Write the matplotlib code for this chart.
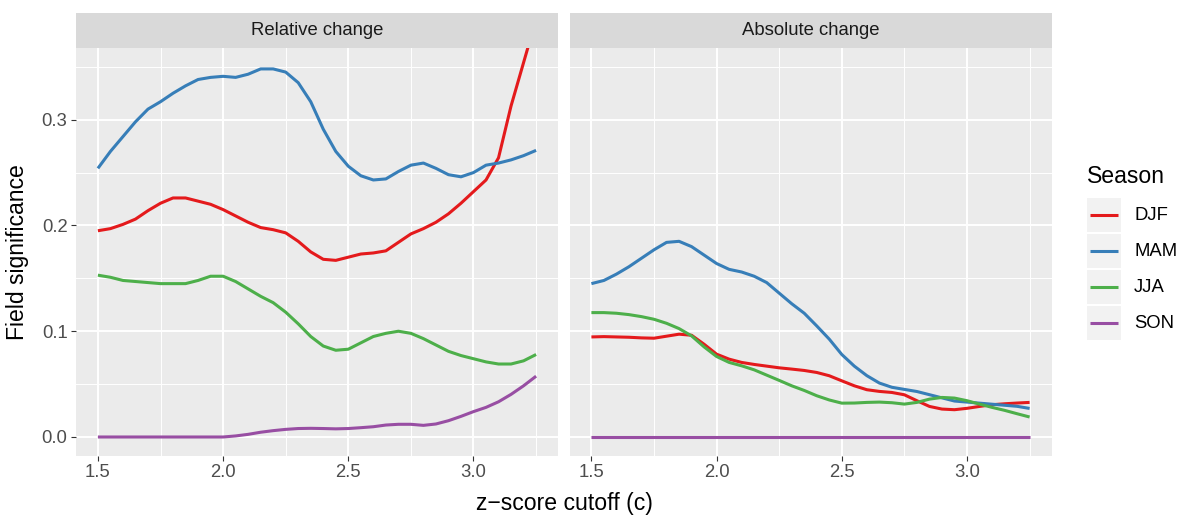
import matplotlib
matplotlib.use('Agg')
import matplotlib.pyplot as plt
from matplotlib.patches import Rectangle

plt.rcParams['font.family'] = ['Liberation Sans', 'DejaVu Sans']

# z-score cutoff (x axis)
z_cutoff = [1.50, 1.55, 1.60, 1.65, 1.70, 1.75, 1.80, 1.85, 1.90, 1.95,
            2.00, 2.05, 2.10, 2.15, 2.20, 2.25, 2.30, 2.35, 2.40, 2.45,
            2.50, 2.55, 2.60, 2.65, 2.70, 2.75, 2.80, 2.85, 2.90, 2.95,
            3.00, 3.05, 3.10, 3.15, 3.20, 3.25]

seasons = ['DJF', 'MAM', 'JJA', 'SON']
season_colors = ['#E41A1C', '#377EB8', '#4DAF4A', '#984EA3']
panel_titles = ['Relative change', 'Absolute change']

# Relative change
rel_djf = [0.195, 0.197, 0.201, 0.206, 0.214, 0.221, 0.226, 0.226, 0.223, 0.220,
           0.215, 0.209, 0.203, 0.198, 0.196, 0.193, 0.185, 0.175, 0.168, 0.167,
           0.170, 0.173, 0.174, 0.176, 0.184, 0.192, 0.197, 0.203, 0.211, 0.221,
           0.232, 0.243, 0.264, 0.313, 0.354, 0.395]
rel_mam = [0.254, 0.270, 0.284, 0.298, 0.310, 0.317, 0.325, 0.332, 0.338, 0.340,
           0.341, 0.340, 0.343, 0.348, 0.348, 0.345, 0.335, 0.317, 0.291, 0.270,
           0.256, 0.247, 0.243, 0.244, 0.251, 0.257, 0.259, 0.254, 0.248, 0.246,
           0.250, 0.257, 0.259, 0.262, 0.266, 0.271]
rel_jja = [0.153, 0.151, 0.148, 0.147, 0.146, 0.145, 0.145, 0.145, 0.148, 0.152,
           0.152, 0.147, 0.140, 0.133, 0.127, 0.118, 0.107, 0.095, 0.086, 0.082,
           0.083, 0.089, 0.095, 0.098, 0.100, 0.098, 0.093, 0.087, 0.081, 0.077,
           0.074, 0.071, 0.069, 0.069, 0.072, 0.078]
rel_son = [0.0, 0.0, 0.0, 0.0, 0.0, 0.0, 0.0, 0.0, 0.0, 0.0,
           0.0, 0.001, 0.0025, 0.0045, 0.006, 0.0072, 0.008, 0.0082, 0.008, 0.0077,
           0.008, 0.0088, 0.0097, 0.0113, 0.012, 0.012, 0.011, 0.0123, 0.0154, 0.0195,
           0.024, 0.028, 0.0333, 0.0403, 0.0484, 0.0575]

# Absolute change
abs_djf = [0.0946, 0.0949, 0.0946, 0.0943, 0.0937, 0.0934, 0.0953, 0.0972, 0.0962, 0.0877,
           0.0783, 0.0736, 0.0705, 0.0686, 0.0670, 0.0654, 0.0642, 0.0629, 0.0610, 0.0579,
           0.0531, 0.0484, 0.0447, 0.0431, 0.0421, 0.0399, 0.0343, 0.0289, 0.0264, 0.0258,
           0.0271, 0.0289, 0.0305, 0.0314, 0.0321, 0.0327]
abs_mam = [0.145, 0.148, 0.154, 0.161, 0.169, 0.177, 0.184, 0.185, 0.180, 0.172,
           0.164, 0.1585, 0.156, 0.152, 0.146, 0.136, 0.126, 0.117, 0.105, 0.0925,
           0.078, 0.067, 0.058, 0.051, 0.047, 0.045, 0.043, 0.040, 0.037, 0.034,
           0.033, 0.032, 0.031, 0.030, 0.029, 0.027]
abs_jja = [0.1176, 0.1176, 0.1170, 0.1157, 0.1138, 0.1113, 0.1075, 0.1025, 0.0956, 0.0852,
           0.0761, 0.0705, 0.0673, 0.0635, 0.0585, 0.0535, 0.0484, 0.0440, 0.0390, 0.0350,
           0.0320, 0.0321, 0.0327, 0.0330, 0.0324, 0.0311, 0.0327, 0.0358, 0.0374, 0.0368,
           0.0343, 0.0311, 0.0280, 0.0252, 0.0220, 0.0189]
abs_son = [0.0, 0.0, 0.0, 0.0, 0.0, 0.0, 0.0, 0.0, 0.0, 0.0,
           0.0, 0.0, 0.0, 0.0, 0.0, 0.0, 0.0, 0.0, 0.0, 0.0,
           0.0, 0.0, 0.0, 0.0, 0.0, 0.0, 0.0, 0.0, 0.0, 0.0,
           0.0, 0.0, 0.0, 0.0, 0.0, 0.0]

x_ticks = [1.5, 2.0, 2.5, 3.0]
x_tick_labels = ['1.5', '2.0', '2.5', '3.0']
y_ticks = [0.0, 0.1, 0.2, 0.3]
y_tick_labels = ['0.0', '0.1', '0.2', '0.3']

panel_data = [[rel_djf, rel_mam, rel_jja, rel_son],
              [abs_djf, abs_mam, abs_jja, abs_son]]

W, H = 1200, 525
fig = plt.figure(figsize=(12, 5.25), dpi=100)


def box(x0, y0, x1, y1):
    # pixel box (y measured from the top) -> figure fraction
    return [x0 / W, 1 - y1 / H, (x1 - x0) / W, (y1 - y0) / H]


panel_left = [76, 569.5]
panel_w = 482
for i in range(2):
    x0 = panel_left[i]
    ax = fig.add_axes(box(x0, 48.3, x0 + panel_w, 455.5))
    ax.set_facecolor('#EBEBEB')
    for sp in ax.spines.values():
        sp.set_visible(False)
    ax.set_xlim(1.4125, 3.3375)
    ax.set_ylim(-0.0175, 0.3675)
    ax.set_xticks(x_ticks)
    ax.set_xticklabels(x_tick_labels)
    ax.set_xticks([1.75, 2.25, 2.75, 3.25], minor=True)
    ax.set_yticks(y_ticks)
    ax.set_yticklabels(y_tick_labels)
    ax.set_yticks([0.05, 0.15, 0.25, 0.35], minor=True)
    ax.set_axisbelow(True)
    ax.grid(which='major', color='white', lw=1.4)
    ax.grid(which='minor', color='white', lw=0.7)
    ax.tick_params(which='minor', length=0)
    ax.tick_params(which='major', length=3.6, width=0.8, color='#333333',
                   labelcolor='#4D4D4D', labelsize=13.3, pad=2.5)
    if i == 1:
        ax.tick_params(axis='y', which='both', length=0, labelleft=False)

    for vals, col in zip(panel_data[i], season_colors):
        ax.plot(z_cutoff, vals, color=col, lw=2.2, solid_capstyle='butt')

    strip = fig.add_axes(box(x0, 13, x0 + panel_w, 48.3))
    strip.set_facecolor('#D9D9D9')
    strip.set_xticks([])
    strip.set_yticks([])
    for sp in strip.spines.values():
        sp.set_visible(False)
    strip.text(0.5, 0.5, panel_titles[i], ha='center', va='center',
               fontsize=13.3, color='#1A1A1A', transform=strip.transAxes)

fig.text(18 / W, 1 - 252 / H, 'Field significance', rotation=90,
         ha='center', va='center', fontsize=16.6, color='black')
fig.text(564 / W, 1 - 510 / H, 'z\u2212score cutoff (c)', ha='center',
         va='baseline', fontsize=16.6, color='black')

# legend drawn ggplot-style
leg = fig.add_axes(box(1080, 150, 1200, 345))
leg.set_xlim(1080, 1200)
leg.set_ylim(345, 150)
leg.axis('off')
leg.text(1087, 183, 'Season', ha='left', va='baseline', fontsize=16.6)
key_y = [215, 251, 287, 323]
for cy, name, col in zip(key_y, seasons, season_colors):
    leg.add_patch(Rectangle((1087, cy - 17), 34, 34, facecolor='#F2F2F2',
                            edgecolor='none'))
    leg.plot([1090, 1118], [cy, cy], color=col, lw=2.2, solid_capstyle='butt')
    leg.text(1134, cy, name, ha='left', va='center', fontsize=13.3)

fig.savefig('out.png', dpi=100)
